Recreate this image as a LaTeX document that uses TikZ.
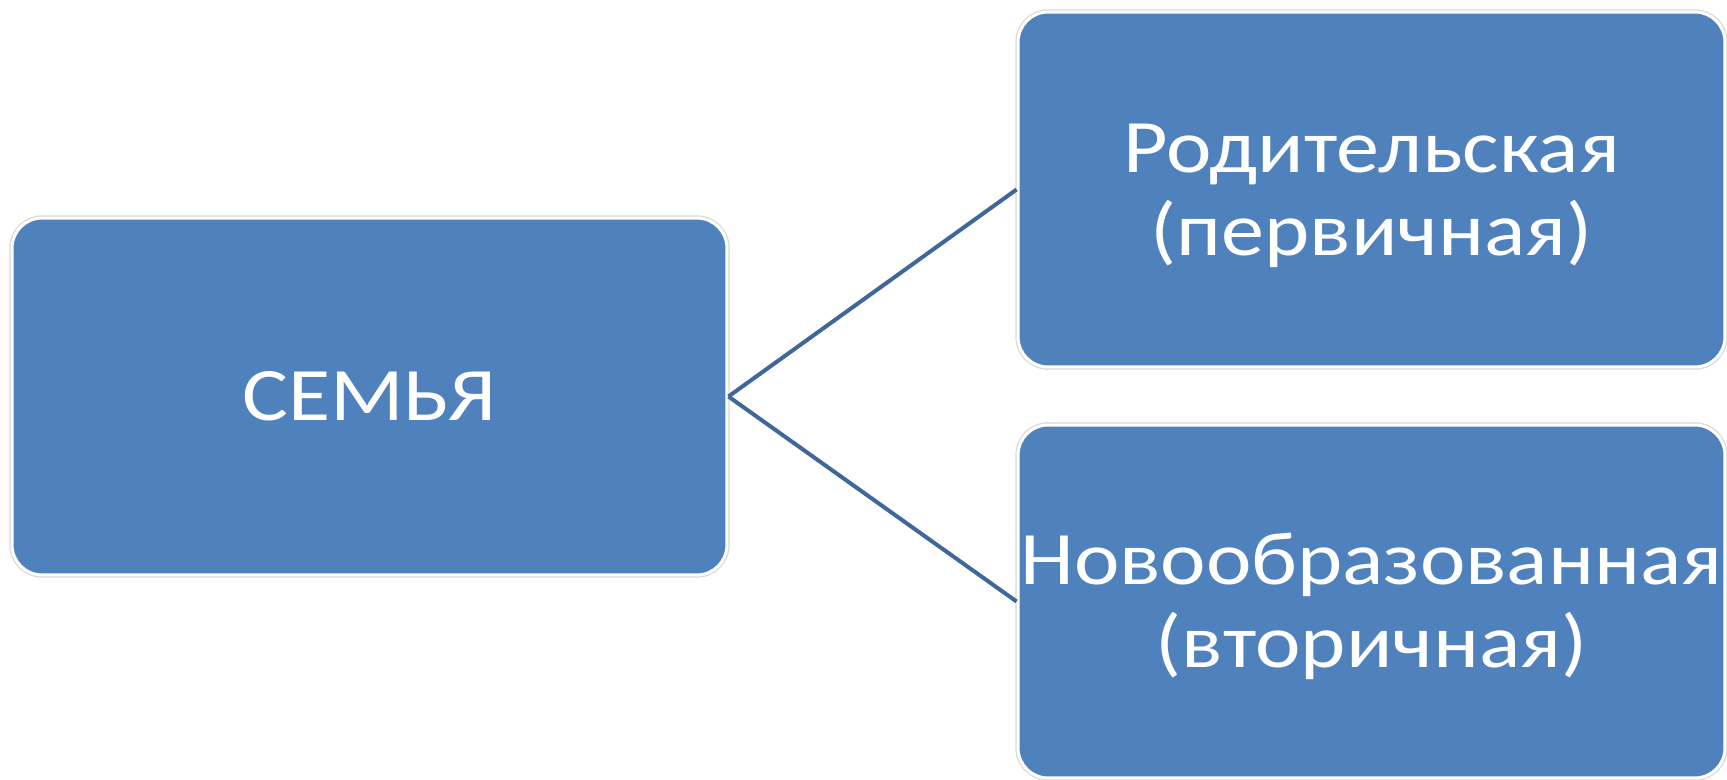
\documentclass[tikz,border=0pt]{standalone}
\usepackage{fontspec}
\setmainfont{Carlito}[FakeStretch=1.14]
\usetikzlibrary{positioning}
\definecolor{famblau}{HTML}{4F81BD}
\definecolor{famlinie}{HTML}{40679A}
% two lines, set a little lower in the box
\newcommand{\famzwei}[2]{\raisebox{-0.16cm}[\height][\depth]{\begin{tabular}{@{}c@{}}#1\\#2\end{tabular}}}
\tikzset{
  famkasten/.style={rectangle, rounded corners=0.6cm, fill=famblau, draw=white,
    line width=0.06cm, preaction={draw=black!15, line width=0.11cm},
    text=white, align=center, inner sep=0pt,
    font=\fontsize{43}{47}\selectfont},
  famlink/.style={draw=famlinie, line width=0.08cm}
}
\begin{document}
\begin{tikzpicture}[x=0.02cm, y=-0.02cm]
			%%%%% START %%%%%
			\useasboundingbox (0, 0) rectangle (1727, 780);
			
			\node[famkasten, minimum width=14.3cm, minimum height=7.14cm] (familie) at (369.5, 396.5) {СЕМЬЯ};
			
			\node[famkasten, minimum width=14.14cm, minimum height=7.1cm] (eltern) at (1371.5, 189.5) {\famzwei{Родительская}{(первичная)}};
			\node[famkasten, minimum width=14.14cm, minimum height=7.06cm] (neu) at (1371.5, 601.5) {\famzwei{Новообразованная}{(вторичная)}};
			
			\draw[famlink] (familie.east) -- (eltern.west);
			\draw[famlink] (familie.east) -- (neu.west);
			
			%%%%% END %%%%%
\end{tikzpicture}
\end{document}
